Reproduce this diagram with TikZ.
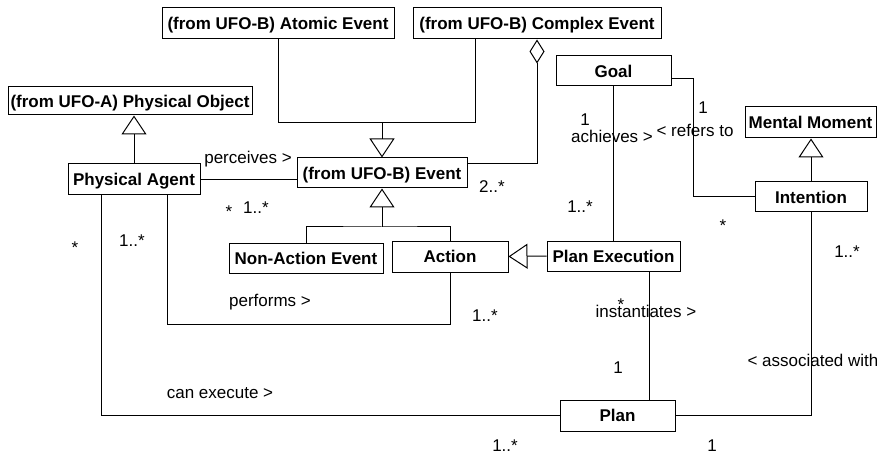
\documentclass[tikz,border=0pt]{standalone}
\usepackage{fontspec}
\setmainfont{Liberation Sans}
\usetikzlibrary{arrows.meta,calc}
\begin{document}
\begin{tikzpicture}[x=1pt,y=-1pt,line width=1pt,
  cls/.style={draw,inner sep=0pt,fill=white,text height=12.3pt,text depth=0pt,
    font=\bfseries\fontsize{17}{20}\selectfont},
  lbl/.style={inner sep=0pt,anchor=base,font=\fontsize{17}{20}\selectfont},
  gen/.style={-{Triangle[open,length=19pt,width=25pt]}},
  agg/.style={{Diamond[open,length=24pt,width=15pt]}-}]
\useasboundingbox (0,0) rectangle (877,454);

% classes
\node[cls,minimum width=232pt,minimum height=31pt] (atomic)  at (278,23.5)  {(from UFO-B) Atomic Event};
\node[cls,minimum width=248pt,minimum height=31pt] (complex) at (537,23.5)  {(from UFO-B) Complex Event};
\node[cls,minimum width=244pt,minimum height=28pt] (physobj) at (130,101)   {(from UFO-A) Physical Object};
\node[cls,minimum width=132pt,minimum height=31pt] (agent)   at (134,179.5) {Physical Agent};
\node[cls,minimum width=170pt,minimum height=30pt] (event)   at (382,173)   {(from UFO-B) Event};
\node[cls,minimum width=115pt,minimum height=30pt] (goal)    at (613.5,71)  {Goal};
\node[cls,minimum width=131pt,minimum height=31pt] (mental)  at (810.5,122.5) {Mental Moment};
\node[cls,minimum width=112pt,minimum height=30pt] (intent)  at (811,197)   {Intention};
\node[cls,minimum width=154pt,minimum height=30pt] (nonact)  at (306,258)   {Non-Action Event};
\node[cls,minimum width=116pt,minimum height=31pt] (action)  at (450,256.5) {Action};
\node[cls,minimum width=133pt,minimum height=30pt] (planex)  at (613.5,256) {Plan Execution};
\node[cls,minimum width=115pt,minimum height=31pt] (plan)    at (617.5,415.5) {Plan};

% bend points
\coordinate (evtop)  at (382,123);
\coordinate (cxdown) at (475,123);
\coordinate (aggin)  at (467,164);
\coordinate (evbus)  at (382,227);
\coordinate (perf)   at (167,324);
\coordinate (canex)  at (101,415);
\coordinate (refr)   at (693,79);
\coordinate (inst)   at (649,330);

% generalizations
\draw (atomic.south) |- (cxdown);
\draw (complex.south -| cxdown) -- (cxdown);
\draw[gen] (evtop) -- (event.north);
\draw[gen] (agent.north) -- (agent.north |- physobj.south);
\draw (nonact.north) |- (evbus) -| (action.north);
\draw[gen] (evbus) -- (event.south);
\draw[gen] (planex.west) -- (action.east);
\draw[gen] (intent.north) -- (intent.north |- mental.south);

% aggregation
\draw[agg] (complex.south) |- (aggin);

% associations
\draw (agent.east) -- (agent.east -| event.west);
\draw (agent.south -| perf) -- (perf) -| (action.south);
\draw (agent.south -| canex) |- (plan.west);
\draw (goal.south) -- (planex.north);
\draw (goal.east |- refr) -- (refr) |- (intent.west);
\draw (intent.south) |- (plan.east);
\draw (planex.south -| inst) -- (plan.north -| inst);

% association labels and multiplicities
\node[lbl] (l1)  at (248,164) {perceives >};
\node[lbl] (l2)  at (229,218) {*};
\node[lbl] (l3)  at (256,214) {1..*};
\node[lbl] (l4)  at (492,193) {2..*};
\node[lbl] (l5)  at (585,126) {1};
\node[lbl] (l6)  at (612,143) {achieves >};
\node[lbl] (l7)  at (703,114) {1};
\node[lbl] (l8)  at (695,137) {< refers to};
\node[lbl] (l9)  at (580,213) {1..*};
\node[lbl] (l10) at (723,232) {*};
\node[lbl] (l11) at (847,258) {1..*};
\node[lbl] (l12) at (485,321) {1..*};
\node[lbl] (l13) at (75,253)  {*};
\node[lbl] (l14) at (132,247) {1..*};
\node[lbl] (l15) at (270,306) {performs >};
\node[lbl] (l16) at (220,398) {can execute >};
\node[lbl] (l17) at (621,310) {*};
\node[lbl] (l18) at (646,317) {instantiates >};
\node[lbl] (l19) at (618,373) {1};
\node[lbl,anchor=base west] (l20) at (747,366) {< associated with};
\node[lbl] (l21) at (505,451) {1..*};
\node[lbl] (l22) at (712,451) {1};
\end{tikzpicture}
\end{document}
